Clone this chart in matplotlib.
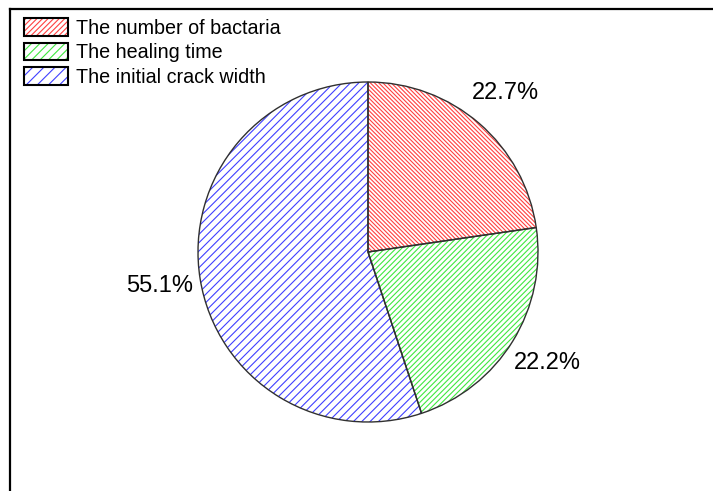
import matplotlib.pyplot as plt
from matplotlib.lines import Line2D
from matplotlib.patches import Patch
from matplotlib.legend_handler import HandlerTuple

plt.rcParams['font.family'] = ['Liberation Sans', 'DejaVu Sans']
plt.rcParams['hatch.linewidth'] = 0.8

# data
labels = ['The number of bactaria', 'The healing time', 'The initial crack width']
shares = [22.7, 22.2, 55.1]
colors = ['#ff4040', '#40e840', '#4040ff']
hatches = ['\\' * 8, '/' * 6, '/' * 4]

W, H = 713, 491
fig = plt.figure(figsize=(W / 100, H / 100), dpi=100)
ax = fig.add_axes([0, 0, 1, 1])

center = (368, H - 252)
radius = 170

# hatched fill
wedges, texts, autotexts = ax.pie(
    shares, center=center, radius=radius, startangle=90, counterclock=False,
    colors=['white'] * 3, autopct='%.1f%%', pctdistance=1.24,
    textprops={'fontsize': 17, 'color': 'black'},
    wedgeprops={'linewidth': 0}, frame=True)
for w, c, h in zip(wedges, colors, hatches):
    w.set_edgecolor(c)
    w.set_hatch(h)

# outlines
ax.pie(shares, center=center, radius=radius, startangle=90,
       counterclock=False, frame=True,
       wedgeprops={'fill': False, 'edgecolor': '#303030', 'linewidth': 1.0})
ax.set_xlim(0, W)
ax.set_ylim(0, H)
ax.set_aspect('equal')
ax.axis('off')

# legend: hatched box with black border
handles = []
for c, h in zip(colors, ['//////', '////', '///']):
    handles.append((Patch(facecolor='white', edgecolor=c, hatch=h, linewidth=0),
                    Patch(fill=False, edgecolor='black', linewidth=1.5)))
ax.legend(handles, labels, loc='upper left', bbox_to_anchor=(24 / W, 1 - 18 / H),
          frameon=False, fontsize=14.2, handlelength=2.25, handleheight=1.0,
          handletextpad=0.4, labelspacing=0.25, borderpad=0, borderaxespad=0,
          handler_map={tuple: HandlerTuple(ndivide=1, pad=0)})

# frame
fig.add_artist(Line2D([10 / W, 10 / W], [-0.1, 1 - 9 / H], transform=fig.transFigure,
                      color='black', linewidth=1.6))
fig.add_artist(Line2D([10 / W, 1.1], [1 - 9 / H, 1 - 9 / H], transform=fig.transFigure,
                      color='black', linewidth=1.6))

fig.savefig('out.png', dpi=100)
